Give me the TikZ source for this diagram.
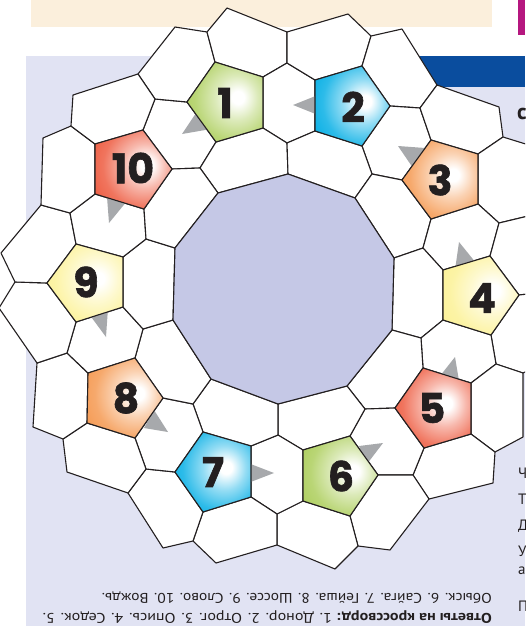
\documentclass[tikz,border=0pt]{standalone}
\usepackage{fontspec}
\setmainfont{PT Sans}
\newfontfamily\numfont{Poppins}[BoldFeatures={FakeBold=1.5}]
\usepackage{graphicx}
\definecolor{ink}{HTML}{231F20}
\definecolor{lav}{HTML}{E1E3F3}
\definecolor{deca}{HTML}{C5C8E6}
\definecolor{beige}{HTML}{FBEFDC}
\definecolor{bband}{HTML}{0A4D9E}
\definecolor{mag}{HTML}{B5177F}
\definecolor{cgreen}{HTML}{B0D063}
\definecolor{ccyan}{HTML}{10B2E6}
\definecolor{corange}{HTML}{F59D58}
\definecolor{cyellow}{HTML}{FCF29A}
\definecolor{cred}{HTML}{EE6248}
\definecolor{agray}{HTML}{A7A9AC}
\newcommand{\mkshade}[2]{\pgfdeclareradialshading{#1}{\pgfpoint{9bp}{3bp}}{color(0bp)=(white); color(4bp)=(white); color(14bp)=(#2!45!white); color(26bp)=(#2!88!white); color(34bp)=(#2); color(80bp)=(#2)}}
\mkshade{shgreen}{cgreen}
\mkshade{shcyan}{ccyan}
\mkshade{shorange}{corange}
\mkshade{shyellow}{cyellow}
\mkshade{shred}{cred}
\begin{document}
\begin{tikzpicture}[x=1pt,y=-1pt,
  cell/.style={fill=white, draw=ink, line width=1.1pt, line join=round},
  pent/.style={draw=ink, line width=1.1pt, line join=round},
  arr/.style={fill=agray},
  num/.style={font=\numfont\bfseries\fontsize{41}{41}\selectfont, text=ink, inner sep=0pt},
  ans/.style={font=\fontsize{14}{16}\selectfont, text=ink, inner sep=0pt, rotate=180, anchor=base west},
  frag/.style={font=\fontsize{15}{15}\selectfont, text=ink, inner sep=0pt, anchor=base west}]
\useasboundingbox (0,0) rectangle (525,626);
\clip (0,0) rectangle (525,626);
\fill[white] (0,0) rectangle (525,626);
\fill[beige] (31,0) rectangle (492,27);
\fill[mag] (518,0) rectangle (525,35);
\fill[lav] (26,56) rectangle (525,626);
\fill[bband] (380,56) rectangle (525,87);
% decagon
\coordinate (D0) at (288,174); \coordinate (D1) at (355,198);
\coordinate (D2) at (394,258); \coordinate (D3) at (392,330);
\coordinate (D4) at (347,386); \coordinate (D5) at (278,404);
\coordinate (D6) at (211,379); \coordinate (D7) at (173,320);
\coordinate (D8) at (175,248); \coordinate (D9) at (218,193);
% pentagons
\coordinate (q1t) at (215,62); \coordinate (q1tr) at (263,77); \coordinate (q1br) at (263,128); \coordinate (q1b) at (216,142); \coordinate (q1l) at (187,102);
\coordinate (q2tl) at (315,80); \coordinate (q2t) at (362,66); \coordinate (q2r) at (390,106); \coordinate (q2b) at (362,146); \coordinate (q2bl) at (315,131);
\coordinate (q3t) at (431,140); \coordinate (q3tr) at (478,154); \coordinate (q3br) at (478,204); \coordinate (q3b) at (431,219); \coordinate (q3l) at (402,180);
\coordinate (q4tl) at (443,270); \coordinate (q4t) at (490,256); \coordinate (q4r) at (519,295); \coordinate (q4b) at (491,335); \coordinate (q4bl) at (443,320);
\coordinate (q5t) at (423,368); \coordinate (q5tr) at (471,383); \coordinate (q5br) at (471,434); \coordinate (q5b) at (424,448); \coordinate (q5l) at (395,408);
\coordinate (q6tl) at (303,450); \coordinate (q6t) at (350,436); \coordinate (q6r) at (378,475); \coordinate (q6b) at (350,516); \coordinate (q6bl) at (303,501);
\coordinate (q7t) at (203,432); \coordinate (q7tr) at (251,446); \coordinate (q7br) at (251,497); \coordinate (q7b) at (203,512); \coordinate (q7l) at (175,472);
\coordinate (q8tl) at (88,373); \coordinate (q8t) at (135,358); \coordinate (q8r) at (163,398); \coordinate (q8b) at (135,438); \coordinate (q8bl) at (87,423);
\coordinate (q9t) at (76,244); \coordinate (q9tr) at (123,257); \coordinate (q9br) at (123,307); \coordinate (q9b) at (76,322); \coordinate (q9l) at (47,283);
\coordinate (q10tl) at (95,144); \coordinate (q10t) at (143,130); \coordinate (q10r) at (172,169); \coordinate (q10b) at (144,209); \coordinate (q10bl) at (95,194);
% other vertices
\coordinate (a1) at (227,8); \coordinate (a2) at (207,32); \coordinate (a3) at (175,27);
\coordinate (a4) at (138,74); \coordinate (a5) at (155,99); \coordinate (a6) at (73,95);
\coordinate (a7) at (71,126); \coordinate (a8) at (43,138); \coordinate (a9) at (41,205);
\coordinate (a10) at (70,213); \coordinate (a11) at (1,253); \coordinate (a12) at (15,282);
\coordinate (a13) at (-1,308); \coordinate (a14) at (146,239); \coordinate (b1) at (200,168);
\coordinate (c1) at (287,32); \coordinate (c2) at (287,63); \coordinate (c3) at (348,14);
\coordinate (c4) at (371,36); \coordinate (c5) at (402,29); \coordinate (c6) at (437,85);
\coordinate (c7) at (420,108); \coordinate (c8) at (499,107); \coordinate (c9) at (503,137);
\coordinate (c10) at (545,150); \coordinate (c11) at (287,143); \coordinate (c12) at (372,174);
\coordinate (c13) at (423,248); \coordinate (c14) at (499,223); \coordinate (c15) at (545,212);
\coordinate (g1) at (545,292); \coordinate (g2) at (545,362);
\coordinate (e1) at (496,364); \coordinate (e2) at (523,373); \coordinate (e3) at (523,437);
\coordinate (e4) at (495,452); \coordinate (e5) at (493,483); \coordinate (e6) at (429,499);
\coordinate (e7) at (413,475); \coordinate (e8) at (390,550); \coordinate (e9) at (358,546);
\coordinate (e10) at (335,569); \coordinate (e11) at (277,545); \coordinate (e12) at (277,514);
\coordinate (f1) at (216,563); \coordinate (f2) at (193,541); \coordinate (f3) at (163,548);
\coordinate (f4) at (128,493); \coordinate (f5) at (146,469); \coordinate (f6) at (67,472);
\coordinate (f7) at (63,439); \coordinate (f8) at (33,427); \coordinate (f9) at (37,363);
\coordinate (f10) at (67,353); \coordinate (f11) at (143,329); \coordinate (f12) at (193,404);
\coordinate (f13) at (278,435); \coordinate (f14) at (365,409); \coordinate (f15) at (421,338);
% cells
\foreach \c in {
 {a5,q1l,q1b,b1,q10r,q10t}, {a4,a3,a2,q1t,q1l,a5}, {a2,a1,c1,c2,q1tr,q1t},
 {c2,q2tl,q2bl,c11,q1br,q1tr}, {q1b,q1br,c11,D0,D9,b1}, {c1,c3,c4,q2t,q2tl,c2},
 {c4,c5,c6,c7,q2r,q2t}, {c7,q3t,q3l,c12,q2b,q2r}, {c11,q2bl,q2b,c12,D1,D0},
 {c6,c8,c9,q3tr,q3t,c7}, {c12,q3l,q3b,c13,D2,D1}, {c9,c10,c15,c14,q3br,q3tr},
 {q3b,q3br,c14,q4t,q4tl,c13}, {c13,q4tl,q4bl,f15,D3,D2}, {c14,c15,g1,q4r,q4t},
 {q4r,g1,g2,e2,e1,q4b}, {q4bl,q4b,e1,q5tr,q5t,f15}, {f15,q5t,q5l,f14,D4,D3},
 {e1,e2,e3,e4,q5br,q5tr}, {q5br,e4,e5,e6,e7,q5b}, {f14,q5l,q5b,e7,q6r,q6t},
 {D5,D4,f14,q6t,q6tl,f13}, {q6r,e7,e6,e8,e9,q6b}, {q6bl,q6b,e9,e10,e11,e12},
 {f13,q6tl,q6bl,e12,q7br,q7tr}, {D6,D5,f13,q7tr,q7t,f12}, {q7b,q7br,e12,e11,f1,f2},
 {f5,q7l,q7b,f2,f3,f4}, {f12,q7t,q7l,f5,q8b,q8r}, {f11,q8t,q8r,f12,D6,D7},
 {f7,q8bl,q8b,f5,f4,f6}, {f10,q8tl,q8bl,f7,f8,f9}, {q9b,q9br,f11,q8t,q8tl,f10},
 {a14,q9tr,q9br,f11,D7,D8}, {a12,q9l,q9b,f10,f9,a13}, {a9,a10,q9t,q9l,a12,a11},
 {a10,q10bl,q10b,a14,q9tr,q9t}, {q10r,b1,D9,D8,a14,q10b}, {a8,a7,q10tl,q10bl,a10,a9},
 {a6,a4,a5,q10t,q10tl,a7}} {
  \def\pp{}
  \foreach \v [count=\i] in \c {\ifnum\i=1 \xdef\pp{(\v)}\else\xdef\pp{\pp -- (\v)}\fi}
  \draw[cell] \pp -- cycle;
}
\draw[cell, fill=deca] (D0) -- (D1) -- (D2) -- (D3) -- (D4) -- (D5) -- (D6) -- (D7) -- (D8) -- (D9) -- cycle;
% arrow triangles
\fill[arr] (182,134) -- (198,110) -- (211,129) -- cycle;
\fill[arr] (293,105) -- (318,95) -- (318,115) -- cycle;
\fill[arr] (398,146) -- (425,148) -- (413,168) -- cycle;
\fill[arr] (459,242) -- (455,270) -- (476,263) -- cycle;
\fill[arr] (455,357) -- (440,376) -- (459,381) -- cycle;
\fill[arr] (383,443) -- (359,446) -- (367,464) -- cycle;
\fill[arr] (274,473) -- (248,463) -- (248,483) -- cycle;
\fill[arr] (168,432) -- (144,428) -- (154,410) -- cycle;
\fill[arr] (106,337) -- (89,314) -- (108,308) -- cycle;
\fill[arr] (109,223) -- (107,197) -- (127,201) -- cycle;
% pentagons
\path[pent, shading=shgreen] (q1t) -- (q1tr) -- (q1br) -- (q1b) -- (q1l) -- cycle;
\path[pent, shading=shcyan] (q2tl) -- (q2t) -- (q2r) -- (q2b) -- (q2bl) -- cycle;
\path[pent, shading=shorange] (q3t) -- (q3tr) -- (q3br) -- (q3b) -- (q3l) -- cycle;
\path[pent, shading=shyellow] (q4tl) -- (q4t) -- (q4r) -- (q4b) -- (q4bl) -- cycle;
\path[pent, shading=shred] (q5t) -- (q5tr) -- (q5br) -- (q5b) -- (q5l) -- cycle;
\path[pent, shading=shgreen] (q6tl) -- (q6t) -- (q6r) -- (q6b) -- (q6bl) -- cycle;
\path[pent, shading=shcyan] (q7t) -- (q7tr) -- (q7br) -- (q7b) -- (q7l) -- cycle;
\path[pent, shading=shorange] (q8tl) -- (q8t) -- (q8r) -- (q8b) -- (q8bl) -- cycle;
\path[pent, shading=shyellow] (q9t) -- (q9tr) -- (q9br) -- (q9b) -- (q9l) -- cycle;
\path[pent, shading=shred] (q10tl) -- (q10t) -- (q10r) -- (q10b) -- (q10bl) -- cycle;
% numbers
\node[num] (n1) at (225,103) {1};
\node[num] (n2) at (353,107) {2};
\node[num] (n3) at (440,180) {3};
\node[num] (n4) at (482,298) {4};
\node[num] (n5) at (432,408) {5};
\node[num] (n6) at (341,476) {6};
\node[num] (n7) at (213,472) {7};
\node[num] (n8) at (126,398) {8};
\node[num] (n9) at (86,282) {9};
\node[num] (n10) at (133,168) {10};
% answers (upside down)
\node[ans] (ans1) at (492,613) {\resizebox{449pt}{\height}{\textbf{Ответы на кроссворд:} 1. Донор. 2. Отрог. 3. Опись. 4. Седок. 5.}};
\node[ans] (ans2) at (492,593) {\resizebox{390pt}{\height}{Обыск. 6. Сайга. 7. Гейша. 8. Шоссе. 9. Слово. 10. Вождь.}};
% cut-off letters of the neighbouring column
\node[frag, font=\fontsize{22}{22}\selectfont\bfseries] (fc) at (517,119) {с};
\node[frag] (fr1) at (518,478) {Ч};
\node[frag] (fr2) at (518,504) {Т};
\node[frag] (fr3) at (518,530) {Д};
\node[frag] (fr4) at (518,556) {У};
\node[frag] (fr5) at (518,574) {а};
\node[frag] (fr6) at (518,611) {П};
\end{tikzpicture}
\end{document}
